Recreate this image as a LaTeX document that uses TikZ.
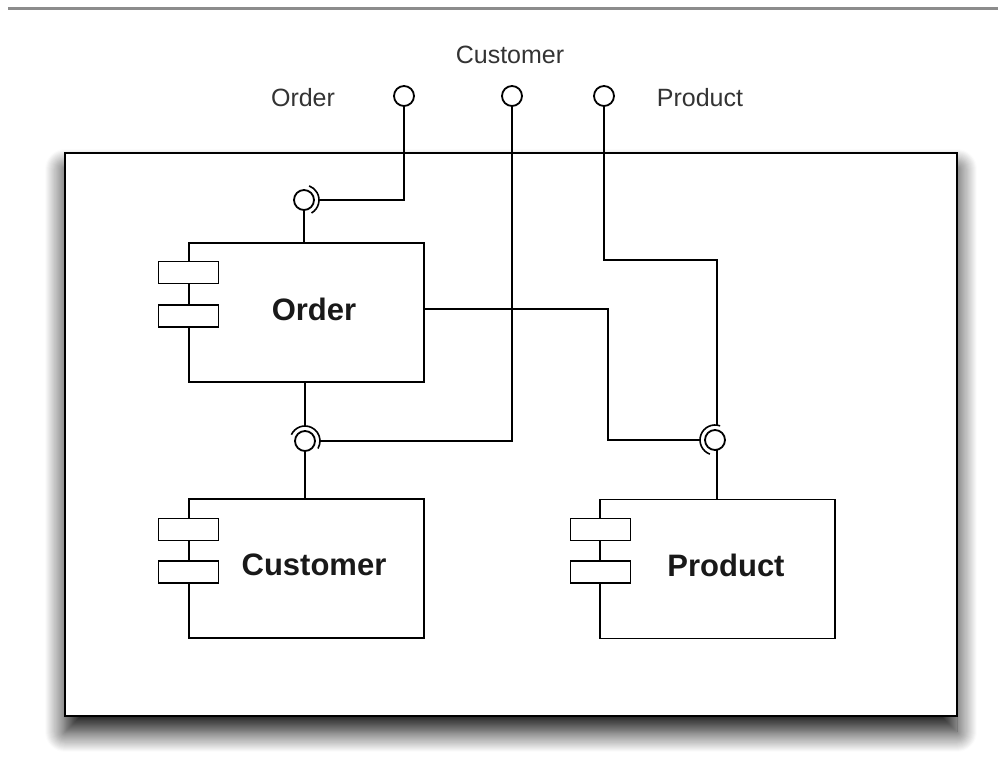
\documentclass[tikz,border=0pt]{standalone}
\usepackage{fontspec}
\setmainfont{Liberation Sans}
\usetikzlibrary{shadows.blur}
\begin{document}
\begin{tikzpicture}[x=1pt,y=1pt,line width=1.8pt,
  comp/.style={draw, rectangle, minimum width=235pt, minimum height=139pt, inner sep=0pt},
  ctext/.style={font=\fontsize{31}{36}\selectfont\bfseries, text=black!90},
  tab/.style={draw, fill=white, rectangle, minimum width=60pt, minimum height=22pt, inner sep=0pt},
  ball/.style={draw, circle, minimum size=20pt, inner sep=0pt, fill=white},
  lbl/.style={font=\fontsize{25}{29}\selectfont, text=black!80},
  sock/.style={line width=1.6pt}]
\useasboundingbox (0,0) rectangle (998,773);
% top rule
\draw[black!45, line width=3pt] (8,764) -- (998,764);
% outer frame
\node[draw, line width=2pt, minimum width=892pt, minimum height=563pt, inner sep=0pt, fill=white,
  blur shadow={shadow xshift=0pt, shadow yshift=-16pt, shadow blur radius=20pt, shadow opacity=95, shadow blur steps=20}]
  (outer) at (511,338.5) {};
% components
\node[comp] (order) at (306.5,460.5) {};
\node[ctext] (ordert) at (314,464) {Order};
\node[tab] (ot1) at (188.5,500.5) {};
\node[tab] (ot2) at (188.5,457) {};
\node[comp] (cust) at (306.5,204.5) {};
\node[ctext] (custt) at (314,208) {Customer};
\node[tab] (ct1) at (188.5,243.5) {};
\node[tab] (ct2) at (188.5,201) {};
\node[comp] (prod) at (717.5,204) {};
\node[ctext] (prodt) at (726,208) {Product};
\node[tab] (pt1) at (600.5,243.5) {};
\node[tab] (pt2) at (600.5,201) {};
% external ports
\node[ball] (eo) at (404,677) {};
\node[ball] (ec) at (512,677) {};
\node[ball] (ep) at (604,677) {};
\node[lbl] (eol) at (303,675) {Order};
\node[lbl] (ecl) at (510,718) {Customer};
\node[lbl] (epl) at (700,675) {Product};
% internal ball-and-socket joints
\node[ball] (ob) at (304,573) {};
\node[ball] (cb) at (305,332) {};
\node[ball] (pb) at (715,333) {};
\draw[sock] (ob.center) ++(-60:15) arc[start angle=-60, end angle=70, radius=15];
\draw[sock] (cb.center) ++(155:15) arc[start angle=155, end angle=-30, radius=15];
\draw[sock] (pb.center) ++(70:15) arc[start angle=70, end angle=250, radius=15];
\coordinate (os) at (319,573);
\coordinate (cs) at (320,332);
\coordinate (cst) at (305,347);
\coordinate (ps) at (700,333);
\coordinate (pst) at (717,348);
\coordinate (psb) at (717,323);
\coordinate (pbend) at (717,513);
\coordinate (obend) at (608,333);
\coordinate (oe) at (424,464);
% wires
\draw (eo) |- (os);
\draw (ob) -- (ob |- order.north);
\draw (ec) |- (cs);
\draw (cst |- order.south) -- (cst);
\draw (cb) -- (cb |- cust.north);
\draw (oe) -| (obend) -- (ps);
\draw (ep) |- (pbend) -- (pst);
\draw (psb) -- (psb |- prod.north);
\end{tikzpicture}
\end{document}
